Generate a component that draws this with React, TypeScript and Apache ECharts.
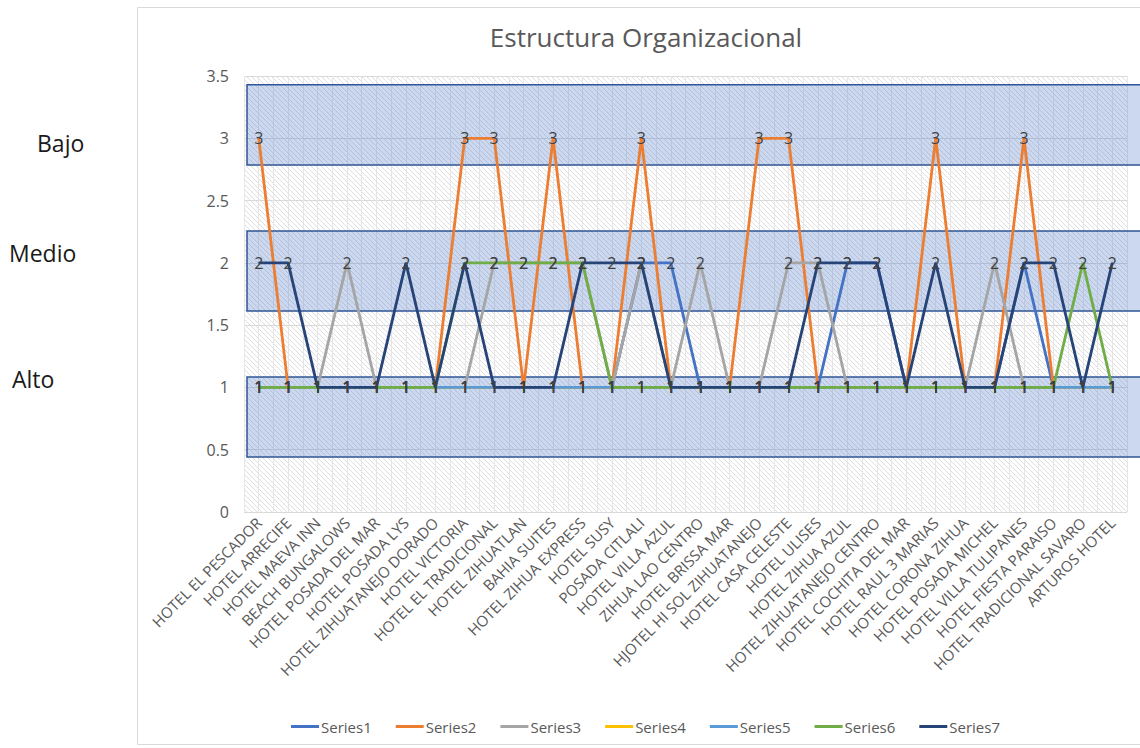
import React, { useEffect, useRef } from "react";
import * as echarts from "echarts";

const categories = [
  "HOTEL EL PESCADOR",
  "HOTEL ARRECIFE",
  "HOTEL MAEVA INN",
  "BEACH BUNGALOWS",
  "HOTEL POSADA DEL MAR",
  "HOTEL POSADA LYS",
  "HOTEL ZIHUATANEJO DORADO",
  "HOTEL VICTORIA",
  "HOTEL EL TRADICIONAL",
  "HOTEL ZIHUATLAN",
  "BAHIA SUITES",
  "HOTEL ZIHUA EXPRESS",
  "HOTEL SUSY",
  "POSADA CITLALI",
  "HOTEL VILLA AZUL",
  "ZIHUA LAO CENTRO",
  "HOTEL BRISSA MAR",
  "HJOTEL HI SOL ZIHUATANEJO",
  "HOTEL CASA CELESTE",
  "HOTEL ULISES",
  "HOTEL ZIHUA AZUL",
  "HOTEL ZIHUATANEJO CENTRO",
  "HOTEL COCHITA DEL MAR",
  "HOTEL RAUL 3 MARIAS",
  "HOTEL CORONA ZIHUA",
  "HOTEL POSADA MICHEL",
  "HOTEL VILLA TULIPANES",
  "HOTEL FIESTA PARAISO",
  "HOTEL TRADICIONAL SAVARO",
  "ARTUROS HOTEL",
];

const series1 = [1, 1, 1, 1, 1, 1, 1, 1, 1, 1, 1, 1, 1, 2, 2, 1, 1, 1, 1, 1, 2, 2, 1, 1, 1, 1, 2, 1, 1, 1];
const series2 = [3, 1, 1, 1, 1, 1, 1, 3, 3, 1, 3, 1, 1, 3, 1, 1, 1, 3, 3, 1, 1, 1, 1, 3, 1, 1, 3, 1, 1, 1];
const series3 = [1, 1, 1, 2, 1, 1, 1, 1, 2, 2, 2, 2, 1, 2, 1, 2, 1, 1, 2, 2, 1, 1, 1, 1, 1, 2, 1, 1, 1, 1];
const series4 = [1, 1, 1, 1, 1, 1, 1, 1, 1, 1, 1, 1, 1, 1, 1, 1, 1, 1, 1, 1, 1, 1, 1, 1, 1, 1, 1, 1, 1, 1];
const series5 = [1, 1, 1, 1, 1, 1, 1, 1, 1, 1, 1, 1, 1, 1, 1, 1, 1, 1, 1, 1, 1, 1, 1, 1, 1, 1, 1, 1, 1, 1];
const series6 = [1, 1, 1, 1, 1, 1, 1, 2, 2, 2, 2, 2, 1, 1, 1, 1, 1, 1, 1, 1, 1, 1, 1, 1, 1, 1, 1, 1, 2, 1];
const series7 = [2, 2, 1, 1, 1, 2, 1, 2, 1, 1, 1, 2, 2, 2, 1, 1, 1, 1, 1, 2, 2, 2, 1, 2, 1, 1, 2, 2, 1, 2];

const seriesNames = ["Series1", "Series2", "Series3", "Series4", "Series5", "Series6", "Series7"];
const seriesValues = [series1, series2, series3, series4, series5, series6, series7];
const seriesColors = ["#4472C4", "#ED7D31", "#A5A5A5", "#FFC000", "#5B9BD5", "#70AD47", "#264478"];

const yMin = 0;
const yMax = 3.5;
const yInterval = 0.5;

const bandNames = ["Bajo", "Medio", "Alto"];
const bandTop = [3.43, 2.256, 1.084];
const bandBottom = [2.785, 1.614, 0.442];
const bandLabelValue = [2.96, 2.08, 1.07];
const bandLabelX = [37, 9, 12];

const FONT = "'Open Sans', 'Noto Sans', sans-serif";
const GRID = { left: 244, top: 76, right: 13, bottom: 236 };
const W = 1140;
const H = 748;

function makeHatch() {
  const c = document.createElement("canvas");
  c.width = 5;
  c.height = 5;
  const ctx = c.getContext("2d");
  if (ctx) {
    ctx.fillStyle = "#ffffff";
    ctx.fillRect(0, 0, 5, 5);
    ctx.strokeStyle = "#dedede";
    ctx.lineWidth = 1;
    ctx.beginPath();
    ctx.moveTo(0, 0);
    ctx.lineTo(5, 5);
    ctx.moveTo(-1, 4);
    ctx.lineTo(1, 6);
    ctx.moveTo(4, -1);
    ctx.lineTo(6, 1);
    ctx.stroke();
  }
  return c;
}

export default function App() {
  const ref = useRef<HTMLDivElement>(null);

  useEffect(() => {
    if (!ref.current) return;
    const chart = echarts.init(ref.current, null, { renderer: "svg" });
    const minorCats = categories.flatMap((c, i) => [c + "-a" + i, c + "-b" + i]);

    const option: any = {
      animation: false,
      backgroundColor: "#ffffff",
      title: {
        text: "Estructura Organizacional",
        left: 641,
        top: 19,
        textAlign: "center",
        textStyle: { fontFamily: FONT, fontSize: 26, fontWeight: "normal", color: "#595959" },
      },
      legend: {
        data: seriesNames,
        top: 714,
        left: 286,
        icon: "rect",
        itemWidth: 28,
        itemHeight: 3,
        itemGap: 24,
        textStyle: { fontFamily: FONT, fontSize: 15, color: "#595959", padding: [0, 0, 0, -3] },
      },
      grid: { left: GRID.left, top: GRID.top, right: GRID.right, bottom: GRID.bottom, containLabel: false },
      xAxis: [
        {
          type: "category",
          data: categories,
          boundaryGap: true,
          axisLine: { show: false },
          axisTick: { show: false },
          splitLine: { show: false },
          axisLabel: {
            interval: 0,
            rotate: 45,
            margin: 8,
            fontFamily: FONT,
            fontSize: 15,
            color: "#595959",
          },
        },
        {
          type: "category",
          data: minorCats,
          boundaryGap: true,
          position: "bottom",
          axisLine: { show: false },
          axisTick: { show: false },
          axisLabel: { show: false, interval: 0 },
          splitLine: { show: true, interval: 0, lineStyle: { color: "#e6e6e6", width: 1 } },
        },
      ],
      yAxis: {
        type: "value",
        min: yMin,
        max: yMax,
        interval: yInterval,
        axisLine: { show: false },
        axisTick: { show: false },
        splitLine: { show: true, lineStyle: { color: "#d9d9d9", width: 1 } },
        axisLabel: { fontFamily: FONT, fontSize: 16, color: "#595959", margin: 15 },
      },
      series: seriesNames.map((name, i) => ({
        name,
        type: "line",
        xAxisIndex: 0,
        data: seriesValues[i],
        color: seriesColors[i],
        symbol: "circle",
        symbolSize: 1,
        showSymbol: true,
        lineStyle: { width: 2.8, color: seriesColors[i] },
        itemStyle: { color: seriesColors[i] },
        label: {
          show: true,
          position: "inside",
          color: "#404040",
          fontFamily: FONT,
          fontSize: 16,
          textBorderWidth: 0,
        },
        emphasis: { disabled: true },
      })),
    };
    chart.setOption(option);

    const pattern = { image: makeHatch(), repeat: "repeat" };
    const graphics: any[] = [
      {
        type: "rect",
        id: "frame",
        silent: true,
        z: -2,
        shape: { x: 137.5, y: 7.5, width: 1010, height: 737 },
        style: { fill: "#ffffff", stroke: "#d9d9d9", lineWidth: 1 },
      },
      {
        type: "rect",
        id: "plotbg",
        silent: true,
        z: -1,
        shape: { x: GRID.left, y: GRID.top, width: W - GRID.left - GRID.right, height: H - GRID.top - GRID.bottom },
        style: { fill: pattern },
      },
    ];
    bandNames.forEach((name, i) => {
      const yT = chart.convertToPixel({ yAxisIndex: 0 }, bandTop[i]) as number;
      const yB = chart.convertToPixel({ yAxisIndex: 0 }, bandBottom[i]) as number;
      const yL = chart.convertToPixel({ yAxisIndex: 0 }, bandLabelValue[i]) as number;
      graphics.push({
        type: "rect",
        id: "band" + i,
        silent: true,
        z: 3,
        shape: { x: GRID.left + 3, y: yT, width: W - GRID.left + 20, height: yB - yT },
        style: { fill: "rgba(68,114,196,0.28)", stroke: "#2F5597", lineWidth: 1.5 },
      });
      graphics.push({
        type: "text",
        id: "bandlabel" + i,
        silent: true,
        z: 4,
        x: bandLabelX[i],
        y: yL,
        style: {
          text: name,
          fontFamily: FONT,
          fontSize: 23,
          fill: "#1a1a1a",
          verticalAlign: "middle",
          align: "left",
        },
      });
    });
    chart.setOption({ graphic: graphics });

    return () => chart.dispose();
  }, []);

  return (
    <div
      ref={ref}
      style={{ position: "absolute", left: 0, top: 0, width: W, height: H, background: "#ffffff" }}
    />
  );
}
